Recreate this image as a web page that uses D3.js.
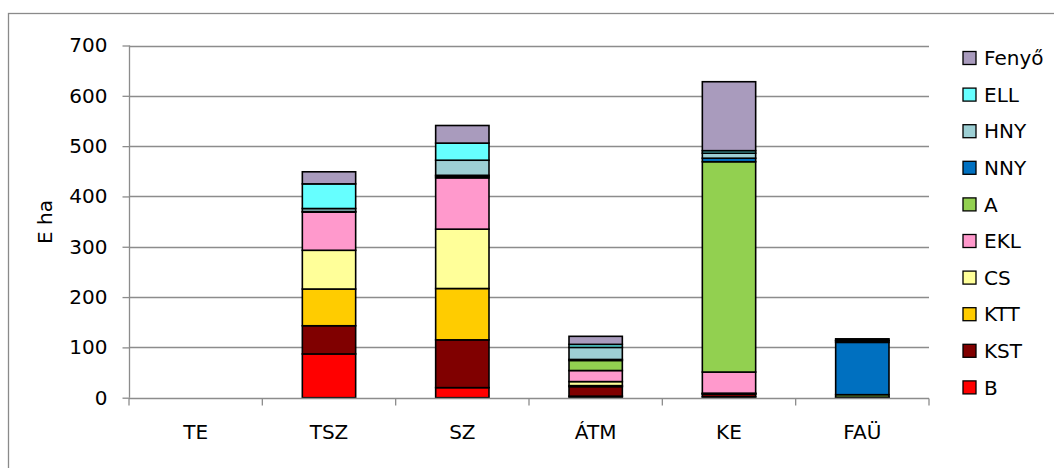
<!DOCTYPE html>
<html><head><meta charset="utf-8">
<script src="https://cdn.jsdelivr.net/npm/d3@7"></script>
<style>body{margin:0;background:#fff}svg{display:block}text{font-family:"DejaVu Sans",sans-serif;fill:#000}</style>
</head><body><div id="c"></div>
<script>
const categories = ["TE","TSZ","SZ","ÁTM","KE","FAÜ"];
const seriesNames = ["B","KST","KTT","CS","EKL","A","NNY","HNY","ELL","Fenyő"];
const seriesColors = ["#FF0000","#800000","#FFCC00","#FFFF99","#FF99CC","#92D050","#0070C0","#9DCFD4","#66FFFF","#A99BBD"];
const B     = [0, 87,  20,  3,   2,   0];
const KST   = [0, 56,  95,  19,  5,   1];
const KTT   = [0, 73,  102, 2,   1,   0];
const CS    = [0, 77,  118, 8,   1,   0];
const EKL   = [0, 76,  102, 22,  42,  0];
const A     = [0, 0,   3,   20,  418, 5];
const NNY   = [0, 1,   2,   2,   7,   104];
const HNY   = [0, 6,   30,  24,  10,  3];
const ELL   = [0, 49,  34,  6,   5,   1];
const Fenyo = [0, 24,  35,  16,  137, 3];
const yTicks = [0,100,200,300,400,500,600,700];
const yTitle = "E ha";

const seriesValues = [B,KST,KTT,CS,EKL,A,NNY,HNY,ELL,Fenyo];
const W = 1054, H = 468;
const FS = "20px";
const m = {left:129, right:1054-929, top:45.5, bottom:468-397.7};
const svg = d3.select("#c").append("svg").attr("width",W).attr("height",H);

svg.append("rect").attr("x",8.5).attr("y",13.5).attr("width",1100).attr("height",500)
  .attr("fill","none").attr("stroke","#8a8a8a").attr("stroke-width",1.3);

const x = d3.scaleBand().domain(categories).range([m.left, W-m.right]).paddingInner(0.6).paddingOuter(0.3);
const xOuter = d3.scaleBand().domain(categories).range([m.left, W-m.right]);
const y = d3.scaleLinear().domain([0,700]).range([H-m.bottom, m.top]);

// gridlines
svg.append("g").selectAll("line").data(yTicks.slice(1)).join("line")
  .attr("x1",m.left).attr("x2",W-m.right).attr("y1",d=>Math.round(y(d))+0.5).attr("y2",d=>Math.round(y(d))+0.5)
  .attr("stroke","#8c8c8c").attr("stroke-width",1.3);

// stacked data
const rows = categories.map((c,i)=>{const o={cat:c}; seriesNames.forEach((s,j)=>o[s]=seriesValues[j][i]); return o;});
const stack = d3.stack().keys(seriesNames)(rows);
const color = d3.scaleOrdinal().domain(seriesNames).range(seriesColors);

svg.append("g").selectAll("g").data(stack).join("g").attr("fill",d=>color(d.key))
  .selectAll("rect").data(d=>d.filter(e=>e[1]-e[0]>0)).join("rect")
  .attr("x",d=>x(d.data.cat)).attr("width",x.bandwidth())
  .attr("y",d=>y(d[1])).attr("height",d=>y(d[0])-y(d[1]))
  .attr("stroke","#000").attr("stroke-width",1.6);

// y axis
const yAxis = svg.append("g").attr("transform",`translate(${m.left+0.5},0)`)
  .call(d3.axisLeft(y).tickValues(yTicks).tickSize(7).tickPadding(15));
yAxis.select(".domain").attr("stroke","#8c8c8c").attr("stroke-width",1.3).attr("d",`M-0,${y(700)}V${y(0)}`);
yAxis.selectAll(".tick line").attr("stroke","#8c8c8c").attr("stroke-width",1.3);
yAxis.selectAll(".tick text").attr("font-size",FS).attr("font-family","DejaVu Sans");

// x axis
const xa = svg.append("g").attr("transform",`translate(0,${Math.round(y(0))+0.5})`);
xa.append("line").attr("x1",m.left).attr("x2",W-m.right).attr("stroke","#8c8c8c").attr("stroke-width",1.3);
const bounds = categories.map(c=>xOuter(c)).concat([W-m.right]);
xa.selectAll(".bt").data(bounds).join("line").attr("class","bt")
  .attr("x1",d=>d).attr("x2",d=>d).attr("y1",0).attr("y2",7).attr("stroke","#8c8c8c").attr("stroke-width",1.3);
xa.selectAll(".lbl").data(categories).join("text").attr("class","lbl")
  .attr("x",d=>xOuter(d)+xOuter.bandwidth()/2).attr("y",40).attr("text-anchor","middle")
  .attr("font-size",FS).text(d=>d);

// y title
svg.append("text").attr("transform","translate(52,222) rotate(-90)").attr("text-anchor","middle")
  .attr("font-size",FS).text(yTitle);

// legend
const legendOrder = seriesNames.slice().reverse();
const lg = svg.append("g").selectAll("g").data(legendOrder).join("g")
  .attr("transform",(d,i)=>`translate(963,${58+i*36.6})`);
lg.append("rect").attr("x",0).attr("y",-6.5).attr("width",13).attr("height",13)
  .attr("fill",d=>color(d)).attr("stroke","#000").attr("stroke-width",1.3);
lg.append("text").attr("x",21).attr("y",0).attr("dy","0.36em").attr("font-size",FS).text(d=>d);
</script></body></html>
